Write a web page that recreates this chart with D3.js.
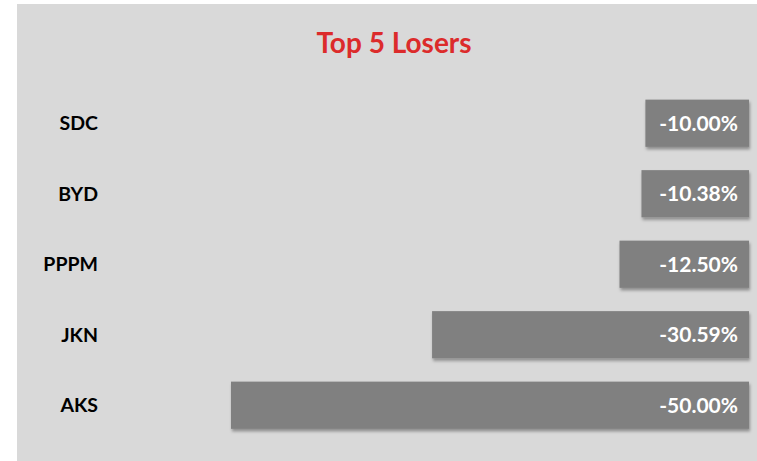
<!DOCTYPE html>
<html>
<head>
<meta charset="utf-8">
<script src="https://cdn.jsdelivr.net/npm/d3@7"></script>
<style>
  body { margin: 0; background: #fff; }
  text { font-family: Lato, "Open Sans", sans-serif; font-weight: bold; }
</style>
</head>
<body>
<svg id="chart"></svg>
<script>
// data
const tickers = ['SDC', 'BYD', 'PPPM', 'JKN', 'AKS']
const changes = [-10.00, -10.38, -12.50, -30.59, -50.00]

const W = 757, H = 461

const svg = d3.select('#chart').attr('width', W).attr('height', H)

// shadow for the bars
const defs = svg.append('defs')
const f = defs.append('filter').attr('id', 'shadow')
  .attr('x', '-5%').attr('y', '-20%').attr('width', '110%').attr('height', '150%')
f.append('feDropShadow').attr('dx', 1).attr('dy', 2.5).attr('stdDeviation', 1.5)
  .attr('flood-color', '#000').attr('flood-opacity', 0.35)

// gray panel
svg.append('rect').attr('x', 17).attr('y', 4).attr('width', W - 17).attr('height', H - 4)
  .attr('fill', '#d9d9d9')

svg.append('text')
  .attr('x', 394).attr('y', 53)
  .attr('text-anchor', 'middle')
  .attr('fill', '#dc2b2b')
  .style('font-size', '28px')
  .text('Top 5 Losers')

const rows = tickers.map((t, i) => ({ name: t, value: changes[i] }))

const x = d3.scaleLinear().domain([-50, 0]).range([231, 749])
const y = d3.scaleBand().domain(tickers).range([88, 440.5]).paddingInner(0.33).paddingOuter(0.165)

// plain hyphen instead of d3's unicode minus
const fmt = v => d3.format('.2f')(v).replace('\u2212', '-') + '%'

// labels on the left
svg.append('g').selectAll('text').data(rows).enter().append('text')
  .attr('x', 98)
  .attr('y', d => y(d.name) + y.bandwidth() / 2)
  .attr('dy', '0.35em')
  .attr('text-anchor', 'end')
  .attr('fill', '#000')
  .style('font-size', '19.5px')
  .text(d => d.name)

const bars = svg.append('g').selectAll('g').data(rows).enter().append('g')

bars.append('rect')
  .attr('x', d => x(d.value))
  .attr('y', d => y(d.name))
  .attr('width', d => x(0) - x(d.value))
  .attr('height', y.bandwidth())
  .attr('fill', '#808080')
  .attr('filter', 'url(#shadow)')

bars.append('text')
  .attr('x', x(0) - 11)
  .attr('y', d => y(d.name) + y.bandwidth() / 2)
  .attr('dy', '0.36em')
  .attr('text-anchor', 'end')
  .attr('fill', '#fff')
  .style('font-size', '21px')
  .text(d => fmt(d.value))
</script>
</body>
</html>
